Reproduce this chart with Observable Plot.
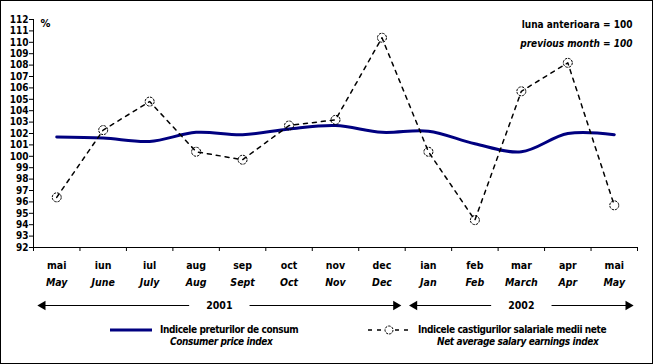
<!DOCTYPE html>
<html><head><meta charset="utf-8">
<script src="https://cdn.jsdelivr.net/npm/d3@7"></script>
<script src="https://cdn.jsdelivr.net/npm/@observablehq/plot@0.6"></script>
<style>
body{margin:0;background:#fff}
#c{position:relative;width:653px;height:364px;font-family:"Liberation Sans Narrow","Arial Narrow","DejaVu Sans Condensed",sans-serif;font-weight:bold;color:#000;overflow:hidden}
#c svg.plot{position:absolute;left:0;top:0}
#frame{position:absolute;left:0;top:0;width:653px;height:364px;box-sizing:border-box;border:1px solid #000;pointer-events:none}
.t{position:absolute;white-space:nowrap;font-size:10px;line-height:12px;letter-spacing:-0.4px}
.i{font-style:italic}
.sw{position:absolute}
</style></head><body>
<div id="c"></div>
<script>
// ---- data ----
const monthsRo = ["mai","iun","iul","aug","sep","oct","nov","dec","ian","feb","mar","apr","mai"];
const monthsEn = ["May","June","July","Aug","Sept","Oct","Nov","Dec","Jan","Feb","March","Apr","May"];
const cpi = [101.7,101.6,101.3,102.1,101.9,102.4,102.7,102.1,102.2,101.1,100.4,102.0,101.9];
const salary = [96.4,102.3,104.8,100.4,99.7,102.7,103.2,110.4,100.4,94.4,105.7,108.2,95.7];
const yTicks = d3.range(92, 113, 1);
const years = [{label:"2001", from:0, to:7},{label:"2002", from:8, to:12}];
const seriesNames = {
  cpiRo: "Indicele preturilor de consum", cpiEn: "Consumer price index",
  salRo: "Indicele castigurilor salariale medii nete", salEn: "Net average salary earnings index"
};
const baseRo = "luna anterioara = 100", baseEn = "previous month = 100";

// ---- derived ----
const idx = monthsRo.map((_, i) => i);
const cpiData = idx.map(i => ({i, v: cpi[i]}));
const salData = idx.map(i => ({i, v: salary[i]}));
const yMin = yTicks[0], yMax = yTicks[yTicks.length - 1];
const boundaries = d3.range(-0.5, monthsRo.length, 1);
const pad = 0.3, gap = 0.65;
const yearMid = d => (d.from + d.to) / 2;
const heads = years.flatMap(d => [{x: d.from - pad, r: -90}, {x: d.to + pad, r: 90}]);
const FONT = '"Liberation Sans Narrow","Arial Narrow","DejaVu Sans Condensed",sans-serif';

const plot = Plot.plot({
  width: 653, height: 364,
  marginLeft: 33, marginRight: 16, marginTop: 19, marginBottom: 117,
  style: {fontFamily: FONT, fontSize: "11px", fontWeight: "bold", color: "#000", background: "transparent"},
  x: {domain: [-0.5, monthsRo.length - 0.5], axis: null},
  y: {domain: [yMin, yMax], axis: null},
  marks: [
    Plot.axisY({ticks: yTicks, tickSize: 4, tickPadding: 1, tickFormat: d => d, fontSize: 10, label: null}),
    Plot.axisX({ticks: boundaries, tickSize: 4, tickFormat: () => "", label: null}),
    Plot.ruleX([-0.5], {stroke: "#000"}),
    Plot.ruleY([yMin], {stroke: "#000"}),
    Plot.text(idx, {x: d => d, text: d => monthsRo[d], frameAnchor: "bottom", dy: 21, fontSize: 10.5}),
    Plot.text(idx, {x: d => d, text: d => monthsEn[d], frameAnchor: "bottom", dy: 38, fontStyle: "italic", fontSize: 10.5}),
    Plot.link(years, {x1: d => d.from - pad, x2: d => yearMid(d) - gap, y1: () => yMin, y2: () => yMin, dy: 58, stroke: "#000", strokeWidth: 1}),
    Plot.link(years, {x1: d => yearMid(d) + gap, x2: d => d.to + pad, y1: () => yMin, y2: () => yMin, dy: 58, stroke: "#000", strokeWidth: 1}),
    Plot.dot(heads, {x: "x", y: () => yMin, rotate: "r", symbol: "triangle2", r: 4.5, fill: "#000", dy: 58}),
    Plot.text(years, {x: yearMid, y: () => yMin, text: "label", dy: 58, fontSize: 10.5}),
    Plot.text(["%"], {frameAnchor: "top-left", textAnchor: "start", dx: 7, dy: 0, fontSize: 11, text: d => d}),
    Plot.text([baseRo], {frameAnchor: "top-right", dx: -5, dy: 1, text: d => d, fontSize: 10, letterSpacing: "-0.5px"}),
    Plot.text([baseEn], {frameAnchor: "top-right", dx: -5, dy: 20, text: d => d, fontStyle: "italic", fontSize: 10, letterSpacing: "-0.5px"}),
    Plot.line(cpiData, {x: "i", y: "v", stroke: "#000080", strokeWidth: 3, curve: "catmull-rom"}),
    Plot.line(salData, {x: "i", y: "v", stroke: "#000", strokeWidth: 1.5, strokeDasharray: "4,5"}),
    Plot.dot(salData, {x: "i", y: "v", r: 4.5, stroke: "#000", strokeWidth: 1, strokeDasharray: "2.5,1", fill: "none"})
  ]
});
plot.classList.add("plot");
const c = document.getElementById("c");
c.appendChild(plot);

function addText(txt, left, top, cls) {
  const d = document.createElement("div");
  d.className = "t" + (cls ? " " + cls : "");
  d.style.left = left + "px"; d.style.top = top + "px";
  d.textContent = txt;
  c.appendChild(d);
}
addText(seriesNames.cpiRo, 160, 324);
addText(seriesNames.cpiEn, 170, 336, "i");
addText(seriesNames.salRo, 418, 324);
addText(seriesNames.salEn, 437, 336, "i");

const ns = "http://www.w3.org/2000/svg";
const sw = document.createElementNS(ns, "svg");
sw.setAttribute("width", 653); sw.setAttribute("height", 364);
sw.setAttribute("class", "sw"); sw.style.left = "0"; sw.style.top = "0";
sw.innerHTML = `
 <line x1="110" y1="330" x2="152" y2="330" stroke="#000080" stroke-width="3"/>
 <line x1="368" y1="330" x2="410" y2="330" stroke="#000" stroke-width="1.5" stroke-dasharray="4,5"/>
 <circle cx="389" cy="330" r="4" fill="#fff" stroke="#000" stroke-width="1" stroke-dasharray="2.5,1"/>`;
c.appendChild(sw);

const f = document.createElement("div"); f.id = "frame"; c.appendChild(f);
</script>
</body></html>
